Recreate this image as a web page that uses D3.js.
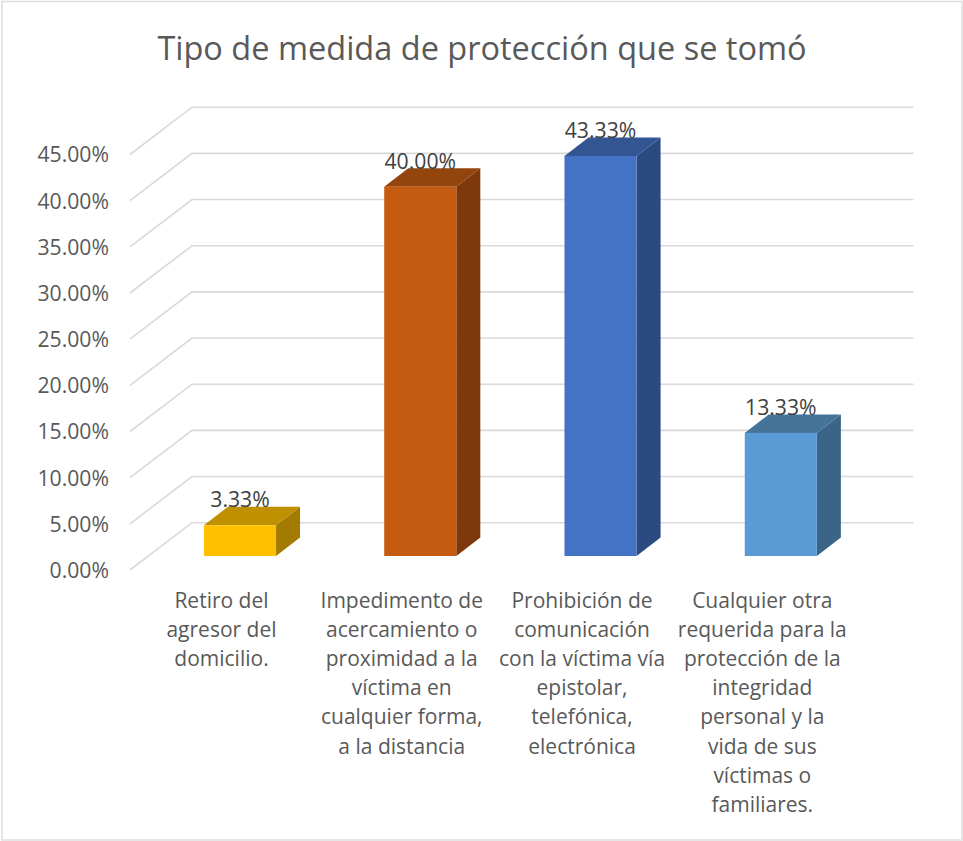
<!DOCTYPE html>
<html><head><meta charset="utf-8">
<script src="https://cdnjs.cloudflare.com/ajax/libs/d3/7.8.5/d3.min.js"></script>
<style>html,body{margin:0;padding:0;background:#fff}svg{display:block}text{font-family:"Open Sans",sans-serif}</style>
</head><body><svg id="c" width="963" height="841"></svg>
<script>
const title = "Tipo de medida de protección que se tomó";
const categories = ["Retiro", "Impedimento", "Prohibicion", "Otra"];
const categoryLines = [
  ["Retiro del","agresor del","domicilio."],
  ["Impedimento de","acercamiento o","proximidad a la","víctima en","cualquier forma,","a la distancia"],
  ["Prohibición de","comunicación","con la víctima vía","epistolar,","telefónica,","electrónica"],
  ["Cualquier otra","requerida para la","protección de la","integridad","personal y la","vida de sus","víctimas o","familiares."]
];
const values = [3.33, 40.00, 43.33, 13.33];
const valueLabels = ["3.33%","40.00%","43.33%","13.33%"];
const tickValues = [0,5,10,15,20,25,30,35,40,45];
const frontColors = ["#ffc000","#c55a11","#4472c4","#5b9bd5"];
const topColors = ["#bf9000","#94440d","#335693","#447499"];
const sideColors = ["#a37b00","#7d390b","#2a4a80","#3a6488"];

const svg = d3.select("#c");
svg.append("rect").attr("x",2).attr("y",1.5).attr("width",960).attr("height",838.5)
  .attr("fill","#fff").attr("stroke","#dedede").attr("stroke-width",1.5);

svg.append("text").attr("x",482).attr("y",60).attr("text-anchor","middle")
  .attr("font-size",32.5).attr("fill","#595959").text(title);

const yWall = d3.scaleLinear().domain([0,45]).range([522.7,107.2]);
const yFront = d3.scaleLinear().domain([0,45]).range([570,154.5]);
const yBar = d3.scaleLinear().domain([0,45]).range([556,140.5]);
const x = d3.scaleBand().domain(categories).range([113.8,907]).paddingInner(0.6).paddingOuter(0.5);
const grid = svg.append("g").attr("fill","none").attr("stroke","#d9d9d9").attr("stroke-width",1.6);
tickValues.forEach(t=>{
  grid.append("path").attr("d",d3.line()([[130,yFront(t)],[192,yWall(t)],[913.5,yWall(t)]]));
});

const axis = d3.axisLeft(yFront).tickValues(tickValues).tickSize(0).tickPadding(0)
  .tickFormat(d=>d3.format(".2f")(d)+"%");
const ag = svg.append("g").attr("transform","translate(109,0.7)").call(axis);
ag.select(".domain").remove();
ag.selectAll("text").attr("font-size",21.2).attr("fill","#595959")
  .style("font-family",'"Open Sans",sans-serif');

const dx=24, dy=18.5;
categories.forEach((c,i)=>{
  const X=x(c), W=x.bandwidth(), T=yBar(values[i]), B=yBar(0);
  const g=svg.append("g");
  g.append("path").attr("fill",sideColors[i])
    .attr("d",d3.line()([[X+W,T],[X+W+dx,T-dy],[X+W+dx,B-dy],[X+W,B]])+"Z");
  g.append("path").attr("fill",topColors[i])
    .attr("d",d3.line()([[X,T],[X+dx,T-dy],[X+W+dx,T-dy],[X+W,T]])+"Z");
  g.append("rect").attr("x",X).attr("y",T).attr("width",W).attr("height",B-T).attr("fill",frontColors[i]);
  svg.append("text").attr("x",X+W/2).attr("y",T-dy+0.7).attr("text-anchor","middle")
    .attr("font-size",21.2).attr("fill","#404040").text(valueLabels[i]);
  const lab=svg.append("text").attr("text-anchor","middle").attr("font-size",21).attr("fill","#595959");
  categoryLines[i].forEach((l,j)=>{
    lab.append("tspan").attr("x",X+W/2-18.5).attr("y",608+j*29.1).text(l);
  });
});
</script></body></html>
